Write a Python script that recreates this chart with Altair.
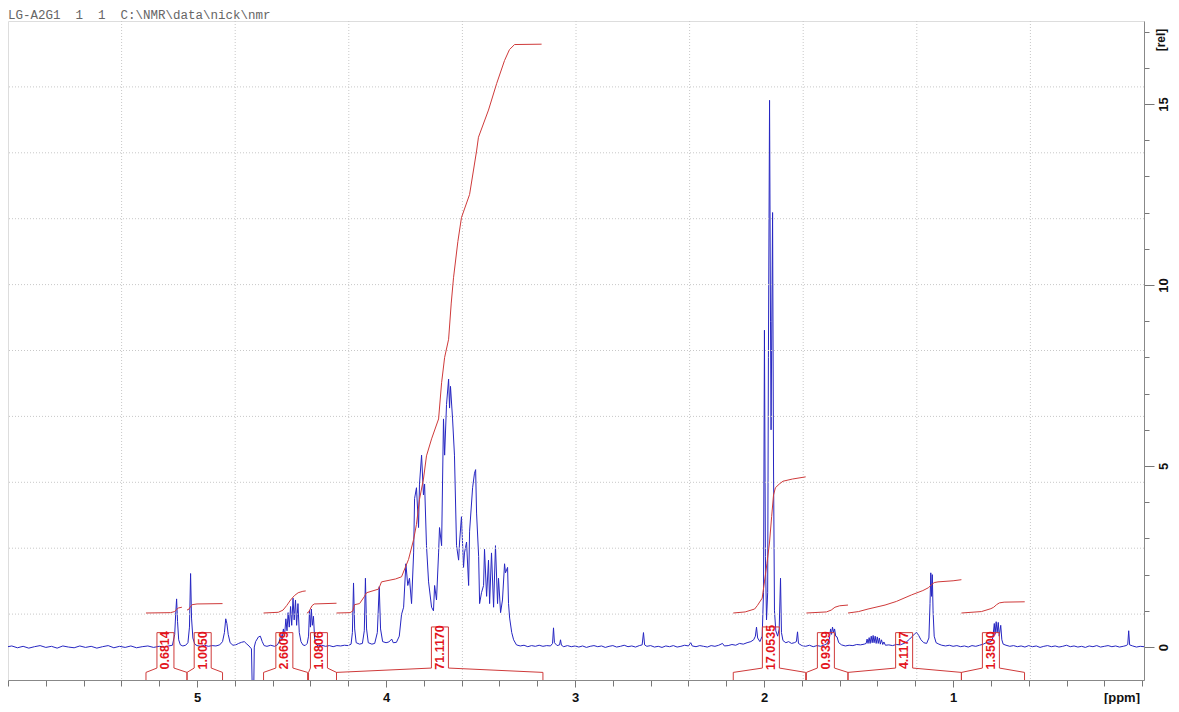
import altair as alt
import pandas as pd

# ---------------- data ----------------
# 1H spectrum: (ppm, relative intensity)
SPECTRUM = [
    (6.01, 0.00), (5.98, 0.03), (5.95, -0.02), (5.92, 0.02), (5.89, -0.03), (5.86, 0.01),
    (5.83, 0.04), (5.80, -0.01), (5.77, 0.02), (5.74, -0.03), (5.71, 0.03), (5.68, 0.00),
    (5.65, -0.02), (5.62, 0.03), (5.59, -0.01), (5.56, 0.02), (5.53, -0.03), (5.50, 0.01),
    (5.47, 0.04), (5.44, -0.02), (5.41, 0.02), (5.38, -0.01), (5.35, 0.03), (5.32, -0.02),
    (5.29, 0.01), (5.26, 0.03), (5.23, -0.01), (5.20, 0.02), (5.17, 0.00), (5.15, 0.03),
    (5.13, 0.05), (5.118, 0.35), (5.113, 0.90), (5.108, 1.33), (5.103, 0.70), (5.097, 0.20),
    (5.088, 0.06), (5.075, 0.03), (5.060, 0.05), (5.048, 0.12), (5.040, 0.55), (5.034, 2.03),
    (5.029, 0.80), (5.022, 0.25), (5.012, 0.08), (5.000, 0.04), (4.98, 0.02), (4.96, 0.05),
    (4.94, 0.02), (4.92, 0.04), (4.90, 0.03), (4.88, 0.06), (4.865, 0.15), (4.855, 0.40),
    (4.848, 0.78), (4.842, 0.65), (4.835, 0.35), (4.825, 0.12), (4.81, 0.05), (4.795, 0.06),
    (4.78, 0.10), (4.765, 0.13), (4.75, 0.15), (4.74, 0.10), (4.725, 0.03), (4.712, -0.05),
    (4.706, -1.60), (4.701, -1.60), (4.697, 0.00), (4.69, 0.15), (4.675, 0.28), (4.665, 0.30),
    (4.655, 0.15), (4.645, 0.04), (4.63, 0.02), (4.61, 0.05), (4.59, 0.02), (4.575, 0.06),
    (4.565, 0.15), (4.556, 0.35), (4.550, 0.22), (4.543, 0.50), (4.537, 0.30), (4.530, 0.78),
    (4.524, 0.45), (4.518, 0.95), (4.512, 0.55), (4.505, 1.12), (4.499, 0.60), (4.492, 1.35),
    (4.486, 0.75), (4.479, 1.30), (4.473, 0.60), (4.466, 1.20), (4.459, 0.40), (4.450, 0.15),
    (4.440, 0.06), (4.428, 0.04), (4.417, 0.10), (4.410, 0.30), (4.405, 1.00), (4.400, 0.55),
    (4.395, 1.05), (4.390, 0.60), (4.384, 0.85), (4.378, 0.25), (4.370, 0.08), (4.36, 0.03),
    (4.34, 0.05), (4.32, 0.02), (4.30, 0.04), (4.28, 0.01), (4.26, 0.04), (4.24, 0.03),
    (4.22, 0.05), (4.20, 0.04), (4.185, 0.08), (4.178, 0.40), (4.172, 1.77), (4.166, 0.50),
    (4.158, 0.12), (4.14, 0.08), (4.125, 0.10), (4.115, 0.45), (4.109, 1.90), (4.103, 0.50),
    (4.094, 0.12), (4.075, 0.08), (4.06, 0.10), (4.046, 0.40), (4.036, 1.67), (4.029, 0.50),
    (4.018, 0.15), (4.00, 0.12), (3.985, 0.14), (3.97, 0.22), (3.962, 0.12), (3.945, 0.13),
    (3.93, 0.30), (3.918, 0.90), (3.907, 1.10), (3.895, 2.30), (3.885, 1.70), (3.876, 1.90),
    (3.865, 1.20), (3.854, 2.60), (3.849, 4.10), (3.839, 4.40), (3.828, 3.30), (3.823, 4.50),
    (3.812, 5.30), (3.802, 4.20), (3.796, 4.50), (3.786, 2.80), (3.775, 1.80), (3.759, 1.10),
    (3.749, 1.00), (3.743, 1.70), (3.733, 1.30), (3.722, 2.60), (3.717, 3.30), (3.706, 2.80),
    (3.696, 6.30), (3.690, 5.30), (3.680, 6.70), (3.669, 7.40), (3.664, 6.60), (3.659, 7.20),
    (3.648, 6.30), (3.638, 5.30), (3.627, 2.80), (3.616, 2.40), (3.611, 2.90), (3.601, 3.60),
    (3.590, 2.20), (3.585, 2.60), (3.574, 2.90), (3.563, 1.70), (3.558, 3.20), (3.542, 4.40),
    (3.532, 4.80), (3.526, 4.90), (3.521, 3.70), (3.510, 2.50), (3.505, 1.20), (3.495, 1.50),
    (3.484, 1.70), (3.479, 2.70), (3.468, 1.40), (3.458, 2.40), (3.452, 1.20), (3.442, 2.60),
    (3.431, 1.10), (3.421, 2.80), (3.410, 1.20), (3.405, 1.90), (3.394, 0.95), (3.384, 1.30),
    (3.373, 2.30), (3.368, 2.05), (3.357, 2.20), (3.352, 1.20), (3.346, 0.80), (3.335, 0.40),
    (3.325, 0.20), (3.31, 0.06), (3.29, 0.03), (3.27, 0.05), (3.25, 0.01), (3.23, 0.04),
    (3.21, 0.02), (3.19, 0.05), (3.17, 0.02), (3.15, 0.04), (3.13, 0.03), (3.119, 0.10),
    (3.114, 0.53), (3.109, 0.12), (3.095, 0.04), (3.082, 0.06), (3.077, 0.20), (3.072, 0.05),
    (3.06, 0.01), (3.04, 0.04), (3.02, 0.01), (3.00, 0.03), (2.98, 0.00), (2.96, 0.03),
    (2.94, -0.01), (2.92, 0.02), (2.90, 0.04), (2.88, 0.01), (2.86, 0.03), (2.84, -0.01),
    (2.82, 0.02), (2.80, 0.04), (2.78, 0.00), (2.76, 0.02), (2.74, 0.05), (2.72, 0.01),
    (2.70, 0.03), (2.68, 0.00), (2.66, 0.04), (2.645, 0.06), (2.638, 0.40), (2.632, 0.06),
    (2.62, 0.02), (2.60, 0.04), (2.58, 0.00), (2.56, 0.02), (2.54, -0.01), (2.52, 0.03),
    (2.50, 0.01), (2.48, 0.04), (2.46, 0.00), (2.44, 0.02), (2.42, 0.05), (2.40, 0.03),
    (2.388, 0.12), (2.38, 0.03), (2.36, 0.01), (2.34, 0.04), (2.32, 0.02), (2.30, 0.00),
    (2.28, 0.04), (2.26, 0.02), (2.24, 0.05), (2.22, 0.10), (2.21, 0.03), (2.19, 0.04),
    (2.17, 0.07), (2.15, 0.05), (2.13, 0.10), (2.11, 0.08), (2.09, 0.12), (2.07, 0.15),
    (2.055, 0.20), (2.046, 0.30), (2.040, 0.55), (2.034, 0.25), (2.022, 0.15), (2.010, 0.30),
    (2.003, 1.50), (1.998, 8.75), (1.993, 2.50), (1.987, 0.75), (1.981, 1.50), (1.977, 8.00),
    (1.971, 15.10), (1.966, 9.00), (1.963, 6.00), (1.959, 9.00), (1.955, 12.00), (1.950, 5.00),
    (1.945, 1.00), (1.938, 0.45), (1.928, 0.30), (1.920, 0.50), (1.913, 1.90), (1.908, 0.40),
    (1.900, 0.18), (1.885, 0.12), (1.870, 0.15), (1.855, 0.10), (1.840, 0.12), (1.829, 0.15),
    (1.823, 0.42), (1.818, 0.10), (1.80, 0.04), (1.78, 0.02), (1.76, 0.05), (1.74, 0.01),
    (1.72, 0.04), (1.70, 0.02), (1.68, 0.06), (1.665, 0.10), (1.655, 0.22), (1.648, 0.50),
    (1.643, 0.35), (1.638, 0.55), (1.632, 0.40), (1.627, 0.50), (1.621, 0.30), (1.614, 0.28),
    (1.605, 0.12), (1.59, 0.06), (1.57, 0.03), (1.55, 0.05), (1.53, 0.04), (1.51, 0.07),
    (1.49, 0.06), (1.47, 0.08), (1.46, 0.10), (1.455, 0.22), (1.450, 0.10), (1.444, 0.26),
    (1.439, 0.10), (1.433, 0.30), (1.428, 0.12), (1.423, 0.32), (1.418, 0.12), (1.412, 0.30),
    (1.407, 0.10), (1.401, 0.28), (1.396, 0.10), (1.390, 0.25), (1.385, 0.08), (1.379, 0.20),
    (1.372, 0.07), (1.366, 0.14), (1.358, 0.05), (1.34, 0.06), (1.32, 0.04), (1.30, 0.07),
    (1.28, 0.06), (1.26, 0.10), (1.245, 0.15), (1.23, 0.22), (1.215, 0.30), (1.200, 0.38),
    (1.192, 0.40), (1.182, 0.32), (1.170, 0.20), (1.155, 0.12), (1.140, 0.10), (1.128, 0.25),
    (1.122, 1.20), (1.118, 2.05), (1.114, 1.40), (1.110, 2.00), (1.106, 1.00), (1.100, 0.30),
    (1.09, 0.12), (1.075, 0.08), (1.06, 0.05), (1.04, 0.03), (1.02, 0.05), (1.00, 0.02),
    (0.98, 0.04), (0.96, 0.01), (0.94, 0.03), (0.92, 0.00), (0.90, 0.04), (0.88, 0.02),
    (0.86, 0.05), (0.84, 0.08), (0.825, 0.12), (0.800, 0.15), (0.790, 0.25), (0.782, 0.65),
    (0.778, 0.35), (0.772, 0.70), (0.767, 0.40), (0.761, 0.68), (0.756, 0.30), (0.748, 0.60),
    (0.742, 0.20), (0.735, 0.08), (0.72, 0.05), (0.70, 0.02), (0.68, 0.04), (0.66, 0.01),
    (0.64, 0.03), (0.62, 0.00), (0.60, 0.04), (0.58, 0.01), (0.56, 0.03), (0.54, -0.01),
    (0.52, 0.02), (0.50, 0.04), (0.48, 0.01), (0.46, 0.03), (0.44, 0.00), (0.42, 0.02),
    (0.40, 0.05), (0.38, 0.01), (0.36, 0.03), (0.34, 0.00), (0.32, 0.02), (0.30, -0.01),
    (0.28, 0.03), (0.26, 0.01), (0.24, 0.04), (0.22, 0.00), (0.20, 0.02), (0.18, 0.04),
    (0.16, 0.01), (0.14, 0.03), (0.12, 0.00), (0.10, 0.02), (0.085, 0.04), (0.076, 0.07),
    (0.071, 0.45), (0.066, 0.06), (0.05, 0.03), (0.03, 0.00), (0.01, 0.02), (-0.01, 0.01),
]

# integral regions
INTEGRAL_LABELS = ["0.6814", "1.0050", "2.6609", "1.0806", "71.1170",
                   "17.0535", "0.9339", "4.1177", "1.3500"]
INTEGRAL_START = [5.270, 5.053, 4.648, 4.410, 4.262, 2.163, 1.776, 1.556, 0.956]
INTEGRAL_END = [5.053, 4.865, 4.415, 4.262, 3.170, 1.780, 1.556, 0.956, 0.622]
INTEGRAL_LABEL_PPM = [5.167, 4.970, 4.538, 4.355, 3.715, 1.964, 1.673, 1.259, 0.800]

# integral curves (ppm, value on the rel axis)
I1 = [(5.270, 0.94), (5.14, 0.95), (5.118, 0.98), (5.108, 1.04), (5.098, 1.08), (5.080, 1.10)]
I2 = [(5.053, 1.02), (5.042, 1.05), (5.034, 1.12), (5.026, 1.17), (5.000, 1.19), (4.865, 1.20)]
I3 = [(4.648, 0.94), (4.57, 0.96), (4.545, 1.02), (4.525, 1.15), (4.505, 1.30), (4.485, 1.42),
      (4.465, 1.50), (4.44, 1.54), (4.425, 1.55)]
I4 = [(4.418, 0.94), (4.41, 0.96), (4.402, 1.04), (4.392, 1.14), (4.38, 1.19), (4.262, 1.21)]
I5 = [(4.262, 0.94), (4.19, 0.95), (4.175, 1.00), (4.167, 1.17), (4.14, 1.20), (4.114, 1.40),
      (4.103, 1.50), (4.04, 1.60), (4.034, 1.67), (4.024, 1.80), (3.95, 1.88), (3.918, 1.94),
      (3.881, 2.42), (3.854, 2.97), (3.839, 3.39), (3.823, 4.08), (3.802, 4.64), (3.786, 5.28),
      (3.759, 5.75), (3.722, 6.30), (3.706, 7.30), (3.690, 8.00), (3.669, 8.50), (3.655, 9.50),
      (3.643, 10.20), (3.62, 11.20), (3.601, 11.86), (3.558, 12.50), (3.521, 13.70),
      (3.511, 14.08), (3.458, 14.83), (3.415, 15.56), (3.373, 16.20), (3.347, 16.50),
      (3.320, 16.64), (3.177, 16.65)]
I6 = [(2.163, 0.94), (2.10, 0.97), (2.05, 1.05), (2.035, 1.15), (2.01, 1.35), (1.998, 1.80),
      (1.985, 2.30), (1.971, 2.90), (1.96, 3.60), (1.95, 4.20), (1.94, 4.40), (1.92, 4.50),
      (1.90, 4.58), (1.85, 4.64), (1.78, 4.70)]
I7 = [(1.776, 0.94), (1.67, 0.97), (1.645, 1.02), (1.625, 1.10), (1.60, 1.14), (1.556, 1.16)]
I8 = [(1.556, 0.94), (1.50, 0.98), (1.45, 1.05), (1.36, 1.16), (1.30, 1.26), (1.22, 1.44),
      (1.16, 1.56), (1.13, 1.64), (1.115, 1.72), (1.10, 1.78), (1.08, 1.80), (1.00, 1.83),
      (0.956, 1.86)]
I9 = [(0.956, 0.94), (0.85, 0.98), (0.80, 1.06), (0.785, 1.10), (0.77, 1.17), (0.755, 1.22),
      (0.73, 1.24), (0.621, 1.25)]
INTEGRAL_CURVES = [I1, I2, I3, I4, I5, I6, I7, I8, I9]

X_MINOR_TICKS = [round(0.2 * i, 1) for i in range(0, 31)]
X_MAJOR_TICKS = [1, 2, 3, 4, 5]
Y_MINOR_TICKS = list(range(0, 18))
Y_MAJOR_TICKS = [0, 5, 10, 15]
HEADER = "LG-A2G1\u00a0\u00a01\u00a0\u00a01\u00a0\u00a0C:\\NMR\\data\\nick\\nmr"

# ---------------- layout / style ----------------
W, H = 1136, 659
PAD_TOP = 13
X_DOM = [6.0, -0.01]
Y_MIN, Y_MAX = -0.91, 17.29
PX_PER_UNIT = H / (Y_MAX - Y_MIN)
PX_PER_PPM = W / (X_DOM[0] - X_DOM[1])
BLUE = "#2626c2"
RED = "#cf3a3a"
LABEL_RED = "#e3141c"
BOX_BOTTOM = -0.58
END_TOP = -0.70
BOX_HALF = 8.5 / PX_PER_PPM
LABEL_FONT = "Liberation Sans Narrow, Arial Narrow, Liberation Sans"
FONT = "Liberation Sans"

xs = alt.Scale(domain=X_DOM, nice=False, zero=False)
ys = alt.Scale(domain=[Y_MIN, Y_MAX], nice=False, zero=False)

spec_df = pd.DataFrame(SPECTRUM, columns=["ppm", "val"])
spec_df["i"] = range(len(spec_df))

int_rows = []
for g, curve in enumerate(INTEGRAL_CURVES):
    for k, (p, v) in enumerate(curve):
        int_rows.append({"ppm": p, "val": v, "grp": g, "i": k})
int_df = pd.DataFrame(int_rows)

br_rows, lab_rows = [], []
for g, (lab, s, e, c) in enumerate(zip(INTEGRAL_LABELS, INTEGRAL_START, INTEGRAL_END, INTEGRAL_LABEL_PPM)):
    text_px = 5.7 * (len(lab) - 1) + 2.9 + 4
    top = BOX_BOTTOM + text_px / PX_PER_UNIT
    bl, brr = c + BOX_HALF, c - BOX_HALF
    pts = [(s, Y_MIN), (s, END_TOP), (bl, BOX_BOTTOM), (bl, top), (brr, top),
           (brr, BOX_BOTTOM), (e, END_TOP), (e, Y_MIN)]
    for k, (p, v) in enumerate(pts):
        br_rows.append({"ppm": p, "val": v, "grp": g, "i": k})
    lab_rows.append({"ppm": c, "val": (BOX_BOTTOM + top) / 2, "label": lab})
br_df = pd.DataFrame(br_rows)
lab_df = pd.DataFrame(lab_rows)

gx_df = pd.DataFrame({"v": [X_DOM[0] - i * (X_DOM[0] - X_DOM[1]) / 10 for i in range(1, 10)]})
gy_df = pd.DataFrame({"v": [Y_MIN + i * (Y_MAX - Y_MIN) / 10 for i in range(1, 10)]})

x_minor_axis = alt.Axis(
    orient="bottom", values=X_MINOR_TICKS, tickSize=6, labels=False, grid=False,
    domain=True, domainColor="#888888", tickColor="#777777", title=None,
)
x_major_axis = alt.Axis(
    orient="bottom", values=X_MAJOR_TICKS, tickSize=7, grid=False, domain=False,
    tickColor="#777777", labelFont=FONT, labelFontWeight="bold", labelFontSize=13,
    labelColor="#111111", labelPadding=4, format="d", title=None,
)
y_minor_axis = alt.Axis(
    orient="right", values=Y_MINOR_TICKS, tickSize=5, labels=False, grid=False,
    domain=True, domainColor="#888888", tickColor="#777777", title=None,
)
y_major_axis = alt.Axis(
    orient="right", values=Y_MAJOR_TICKS, tickSize=10, grid=False, domain=False,
    tickColor="#777777", labelAngle=270, labelAlign="center", labelBaseline="top",
    labelPadding=3, labelFont=FONT, labelFontWeight="bold", labelFontSize=13,
    labelColor="#111111", labelOverlap=False, labelFlush=False, title=None,
)

grid_x = alt.Chart(gx_df).mark_rule(color="#c8c8c8", strokeDash=[1, 2], strokeWidth=1).encode(
    x=alt.X("v:Q", scale=xs, axis=x_minor_axis)
)
grid_y = alt.Chart(gy_df).mark_rule(color="#c8c8c8", strokeDash=[1, 2], strokeWidth=1).encode(
    y=alt.Y("v:Q", scale=ys, axis=y_minor_axis)
)
spectrum = alt.Chart(spec_df).mark_line(color=BLUE, strokeWidth=1, clip=True).encode(
    x=alt.X("ppm:Q", scale=xs, axis=x_major_axis),
    y=alt.Y("val:Q", scale=ys, axis=y_major_axis),
    order=alt.Order("i:Q"),
)
integrals = alt.Chart(int_df).mark_line(color=RED, strokeWidth=1, clip=True).encode(
    x=alt.X("ppm:Q", scale=xs, axis=None),
    y=alt.Y("val:Q", scale=ys, axis=None),
    detail="grp:N",
    order=alt.Order("i:Q"),
)
brackets = alt.Chart(br_df).mark_line(color=RED, strokeWidth=1, clip=True).encode(
    x=alt.X("ppm:Q", scale=xs, axis=None),
    y=alt.Y("val:Q", scale=ys, axis=None),
    detail="grp:N",
    order=alt.Order("i:Q"),
)
labels = alt.Chart(lab_df).mark_text(
    angle=270, font=LABEL_FONT, fontWeight="bold", fontSize=12.5, color=LABEL_RED,
    align="center", baseline="middle",
).encode(
    x=alt.X("ppm:Q", scale=xs, axis=None),
    y=alt.Y("val:Q", scale=ys, axis=None),
    text="label:N",
)
header = alt.Chart(pd.DataFrame({"t": [HEADER]})).mark_text(
    font="Liberation Mono", fontSize=12.5, color="#666666", align="left", baseline="alphabetic",
).encode(x=alt.value(0), y=alt.value(-2.5), text="t:N")
ppm_title = alt.Chart(pd.DataFrame({"t": ["[ppm]"]})).mark_text(
    font=FONT, fontSize=13, fontWeight="bold", color="#111111", align="right", baseline="middle",
).encode(x=alt.value(W - 4), y=alt.value(H + 18), text="t:N")
rel_title = alt.Chart(pd.DataFrame({"t": ["[rel]"]})).mark_text(
    font=FONT, fontSize=12, fontWeight="bold", color="#111111", align="center", baseline="top",
    angle=270,
).encode(x=alt.value(W + 12), y=alt.value(19), text="t:N")

chart = alt.layer(
    spectrum, grid_x, grid_y, integrals, brackets, labels, header, ppm_title, rel_title
).resolve_axis(x="independent", y="independent").properties(
    width=W, height=H,
    autosize=alt.AutoSizeParams(type="none"),
    padding={"left": 0, "top": PAD_TOP, "right": 27, "bottom": 24},
).configure_view(stroke="#888888", strokeWidth=1).configure(background="white")

chart.save("out.html", embed_options={"renderer": "svg", "actions": False})
